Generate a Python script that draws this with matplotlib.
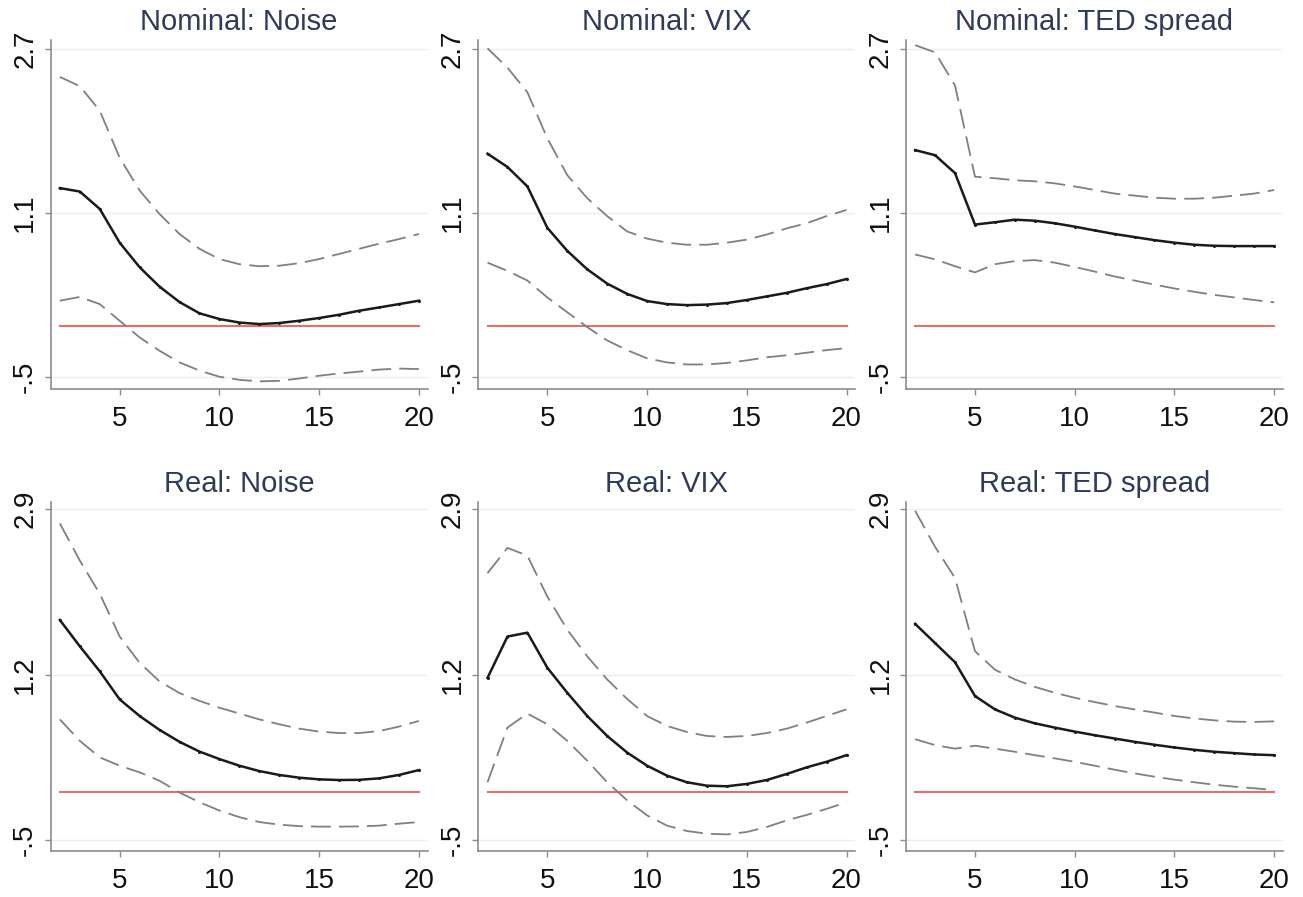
import numpy as np
import matplotlib.pyplot as plt

plt.rcParams['font.family'] = ['Liberation Sans', 'DejaVu Sans']

horizon = list(range(2, 21))

# Nominal: Noise
nom_noise = [1.344, 1.31, 1.14, 0.81, 0.57, 0.38, 0.23, 0.12, 0.064, 0.03,
             0.015, 0.025, 0.047, 0.074, 0.106, 0.145, 0.177, 0.21, 0.243]
nom_noise_hi = [2.43, 2.34, 2.1, 1.64, 1.32, 1.09, 0.895, 0.75, 0.65, 0.60,
                0.58, 0.585, 0.61, 0.65, 0.70, 0.75, 0.80, 0.845, 0.895]
nom_noise_lo = [0.243, 0.28, 0.21, 0.047, -0.116, -0.246, -0.36, -0.44, -0.50, -0.53,
                -0.545, -0.54, -0.517, -0.49, -0.468, -0.45, -0.43, -0.42, -0.425]

# Nominal: VIX
nom_vix = [1.68, 1.55, 1.36, 0.955, 0.73, 0.55, 0.41, 0.31, 0.24, 0.21,
           0.20, 0.205, 0.22, 0.25, 0.285, 0.32, 0.365, 0.405, 0.455]
nom_vix_hi = [2.71, 2.52, 2.28, 1.83, 1.47, 1.245, 1.07, 0.92, 0.85, 0.81,
              0.79, 0.79, 0.81, 0.84, 0.89, 0.95, 1.0, 1.07, 1.13]
nom_vix_lo = [0.615, 0.535, 0.44, 0.275, 0.13, -0.015, -0.145, -0.24, -0.32, -0.36,
              -0.38, -0.38, -0.365, -0.34, -0.31, -0.29, -0.265, -0.24, -0.22]

# Nominal: TED spread
nom_ted = [1.715, 1.665, 1.49, 0.987, 1.01, 1.035, 1.025, 1.0, 0.967, 0.93,
           0.895, 0.865, 0.835, 0.81, 0.79, 0.78, 0.777, 0.777, 0.777]
nom_ted_hi = [2.74, 2.67, 2.345, 1.455, 1.44, 1.42, 1.41, 1.39, 1.36, 1.325,
              1.29, 1.27, 1.25, 1.24, 1.24, 1.25, 1.27, 1.29, 1.325]
nom_ted_lo = [0.695, 0.647, 0.58, 0.52, 0.6, 0.63, 0.64, 0.615, 0.573, 0.528,
              0.48, 0.44, 0.40, 0.363, 0.33, 0.30, 0.275, 0.25, 0.227]

# Real: Noise
real_noise = [1.76, 1.49, 1.234, 0.945, 0.775, 0.632, 0.51, 0.41, 0.333, 0.265,
              0.21, 0.17, 0.142, 0.125, 0.118, 0.12, 0.135, 0.17, 0.22]
real_noise_hi = [2.75, 2.37, 2.03, 1.59, 1.32, 1.13, 1.01, 0.93, 0.86, 0.80,
                 0.74, 0.69, 0.645, 0.615, 0.60, 0.60, 0.62, 0.666, 0.724]
real_noise_lo = [0.74, 0.52, 0.35, 0.265, 0.197, 0.11, -0.01, -0.11, -0.195, -0.263,
                 -0.313, -0.34, -0.355, -0.36, -0.36, -0.358, -0.35, -0.33, -0.313]

# Real: VIX
real_vix = [1.166, 1.59, 1.63, 1.27, 1.013, 0.775, 0.57, 0.40, 0.265, 0.163,
            0.095, 0.06, 0.054, 0.078, 0.118, 0.18, 0.248, 0.305, 0.373]
real_vix_hi = [2.24, 2.50, 2.42, 2.0, 1.66, 1.387, 1.15, 0.95, 0.775, 0.673,
               0.61, 0.57, 0.56, 0.57, 0.60, 0.645, 0.707, 0.775, 0.843]
real_vix_lo = [0.095, 0.656, 0.80, 0.69, 0.52, 0.316, 0.095, -0.09, -0.245, -0.35,
               -0.405, -0.433, -0.44, -0.415, -0.364, -0.296, -0.24, -0.178, -0.11]

# Real: TED spread
real_ted = [1.72, 1.523, 1.326, 0.98, 0.843, 0.758, 0.70, 0.656, 0.615, 0.578,
            0.544, 0.51, 0.48, 0.452, 0.428, 0.408, 0.394, 0.38, 0.373]
real_ted_hi = [2.88, 2.51, 2.19, 1.44, 1.25, 1.15, 1.074, 1.013, 0.962, 0.918,
               0.877, 0.843, 0.81, 0.775, 0.75, 0.73, 0.717, 0.714, 0.72]
real_ted_lo = [0.537, 0.476, 0.44, 0.47, 0.44, 0.408, 0.373, 0.34, 0.305, 0.265,
               0.224, 0.186, 0.152, 0.122, 0.095, 0.07, 0.05, 0.033, 0.016]

titulos = ['Nominal: Noise', 'Nominal: VIX', 'Nominal: TED spread',
           'Real: Noise', 'Real: VIX', 'Real: TED spread']
series = [(nom_noise, nom_noise_hi, nom_noise_lo),
          (nom_vix, nom_vix_hi, nom_vix_lo),
          (nom_ted, nom_ted_hi, nom_ted_lo),
          (real_noise, real_noise_hi, real_noise_lo),
          (real_vix, real_vix_hi, real_vix_lo),
          (real_ted, real_ted_hi, real_ted_lo)]

yticks_nom = [-0.5, 1.1, 2.7]
yticks_real = [-0.5, 1.2, 2.9]
ylabels_nom = ['-.5', '1.1', '2.7']
ylabels_real = ['-.5', '1.2', '2.9']
xticks = [5, 10, 15, 20]

fig = plt.figure(figsize=(13.03, 8.97), dpi=100)

lefts = [0.0389, 0.3671, 0.6953]
bottoms = [0.5663, 0.0513]
ancho, alto = 0.2893, 0.389

for i, (titulo, (irf, hi, lo)) in enumerate(zip(titulos, series)):
    fila, col = divmod(i, 3)
    ax = fig.add_axes([lefts[col], bottoms[fila], ancho, alto])
    if fila == 0:
        yt, yl, lim = yticks_nom, ylabels_nom, (-0.62, 2.79)
    else:
        yt, yl, lim = yticks_real, ylabels_real, (-0.61, 2.97)

    # lineas de grilla tenues en cada tick
    for y in yt:
        ax.axhline(y, color='#ededed', lw=1.0, zorder=0)

    ax.plot(horizon, np.zeros(len(horizon)), color='#e36f6f', lw=1.5, zorder=1)
    ax.plot(horizon, hi, color='#808080', lw=1.3, dashes=(11, 4.5), zorder=2)
    ax.plot(horizon, lo, color='#808080', lw=1.3, dashes=(11, 4.5), zorder=2)
    ax.plot(horizon, irf, color='#1a1a1a', lw=1.8, marker='o', markersize=1.2, zorder=3)

    ax.set_xlim(1.54, 20.44)
    ax.set_ylim(*lim)
    ax.set_xticks(xticks)
    ax.set_yticks(yt)
    ax.set_yticklabels(yl, rotation=90, va='center')

    for lado in ['top', 'right']:
        ax.spines[lado].set_visible(False)
    for lado in ['left', 'bottom']:
        ax.spines[lado].set_color('#8c8c8c')
        ax.spines[lado].set_linewidth(1.2)

    ax.tick_params(axis='both', colors='#8c8c8c', length=4, width=1.0,
                   labelsize=20, labelcolor='#111111')
    ax.tick_params(axis='x', pad=8)
    ax.tick_params(axis='y', pad=5)
    ax.set_title(titulo, fontsize=21, color='#2f3b5c', pad=7)

plt.savefig('out.png', dpi=100)
